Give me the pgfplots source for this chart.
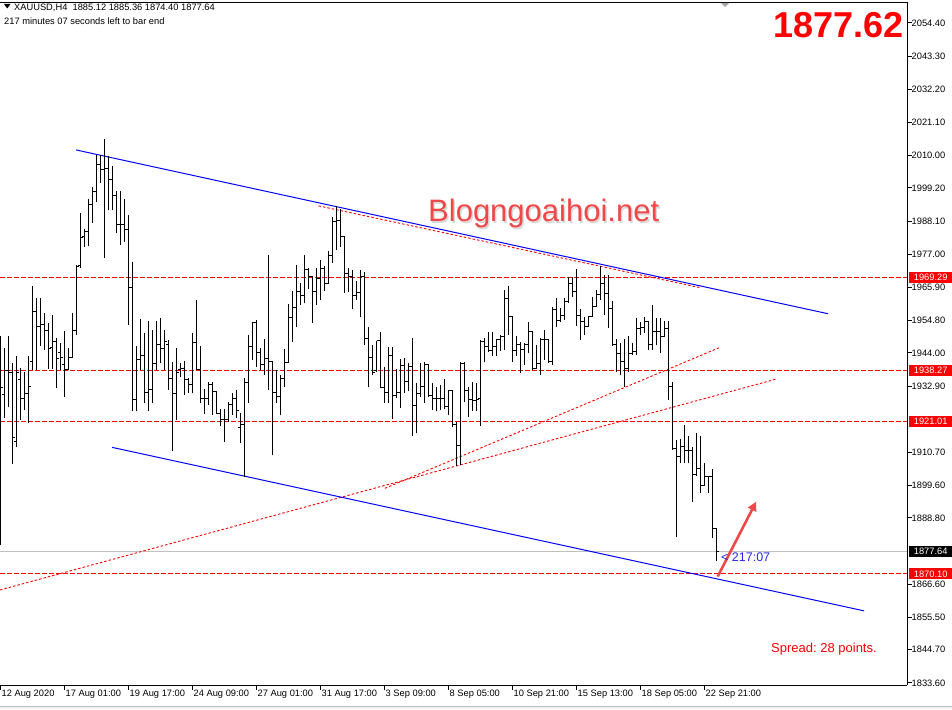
\documentclass[border=0pt]{standalone}
\usepackage{fontspec}
\setmainfont{Liberation Sans}
\usepackage{pgfplots}
\usepackage{pgfplotstable}
\pgfplotsset{compat=1.18}
\usetikzlibrary{arrows.meta}

\definecolor{mtred}{RGB}{255,0,0}
\definecolor{mtblue}{RGB}{0,0,255}
\definecolor{wmred}{RGB}{240,72,72}
\definecolor{arrowred}{RGB}{238,72,72}
\definecolor{bidgray}{RGB}{192,192,192}
\definecolor{cntblue}{RGB}{40,40,235}
\newcommand\mt{\fontsize{9.3}{11}\selectfont}

% open tick to the left, close tick to the right
\pgfdeclareplotmark{ohlcopen}{\pgfpathmoveto{\pgfqpoint{-2.6pt}{0pt}}\pgfpathlineto{\pgfqpoint{0pt}{0pt}}\pgfusepathqstroke}
\pgfdeclareplotmark{ohlcclose}{\pgfpathmoveto{\pgfqpoint{0pt}{0pt}}\pgfpathlineto{\pgfqpoint{2.6pt}{0pt}}\pgfusepathqstroke}

% XAUUSD H4 bars: index, open, high, low, close
\pgfplotstableread{
i o h l c
0 1941.7 1949.5 1879.8 1932.3
1 1930.0 1945.7 1922.3 1938.0
2 1938.0 1949.5 1925.9 1937.3
3 1937.3 1940.6 1906.8 1915.6
4 1914.3 1942.8 1912.6 1937.6
5 1935.0 1938.9 1921.6 1928.6
6 1928.6 1937.7 1924.9 1930.3
7 1930.3 1942.8 1920.6 1932.6
8 1941.0 1966.5 1938.3 1957.7
9 1957.7 1962.3 1938.3 1953.0
10 1953.0 1962.3 1946.3 1953.4
11 1953.4 1957.3 1945.0 1951.4
12 1951.4 1954.1 1938.5 1945.6
13 1945.7 1956.7 1938.5 1947.8
14 1947.7 1948.9 1932.2 1942.2
15 1944.3 1947.4 1938.3 1942.3
16 1940.0 1951.4 1929.4 1938.5
17 1938.6 1945.6 1938.5 1942.4
18 1942.4 1957.3 1942.4 1951.4
19 1951.4 1973.4 1950.0 1972.9
20 1973.1 1990.7 1972.3 1982.7
21 1982.8 1985.4 1979.4 1984.6
22 1984.5 1995.4 1979.6 1993.5
23 1993.5 1999.6 1987.4 1998.0
24 1998.0 2010.3 1994.6 2007.1
25 2007.1 2010.3 2001.0 2005.2
26 2005.2 2015.5 1975.9 2005.8
27 2005.8 2009.9 1991.8 2002.1
28 2002.1 2006.6 1991.8 1996.5
29 1996.5 1998.0 1984.0 1987.1
30 1987.1 1998.0 1980.1 1986.8
31 1986.8 1995.4 1981.2 1985.2
32 1985.2 1990.2 1953.4 1966.0
33 1966.0 1974.5 1924.4 1928.3
34 1928.3 1946.3 1924.4 1941.7
35 1941.7 1955.3 1938.3 1943.3
36 1943.3 1950.8 1927.2 1930.9
37 1930.9 1954.7 1924.4 1931.9
38 1931.9 1951.7 1927.2 1940.6
39 1940.6 1954.7 1938.3 1946.7
40 1946.7 1955.8 1940.6 1945.6
41 1945.6 1951.7 1938.3 1947.8
42 1946.7 1948.4 1931.6 1935.5
43 1935.6 1941.1 1911.3 1930.5
44 1930.5 1945.6 1921.6 1937.6
45 1938.3 1940.6 1936.1 1938.9
46 1938.9 1941.3 1929.9 1935.0
47 1935.0 1935.6 1930.6 1933.3
48 1933.3 1950.8 1930.5 1947.6
49 1947.6 1961.7 1938.3 1938.3
50 1938.3 1946.3 1927.3 1928.9
51 1928.9 1931.8 1923.6 1928.9
52 1928.9 1934.4 1926.6 1933.3
53 1933.3 1934.4 1923.2 1931.0
54 1931.0 1931.0 1923.5 1923.6
55 1923.6 1925.2 1919.6 1921.6
56 1921.6 1925.2 1914.2 1921.6
57 1921.6 1927.7 1921.0 1926.6
58 1926.6 1930.5 1923.2 1928.9
59 1928.9 1931.6 1922.3 1924.9
60 1918.9 1923.8 1913.9 1919.9
61 1919.9 1935.5 1902.6 1934.0
62 1934.0 1950.0 1927.3 1946.3
63 1946.3 1954.5 1941.7 1954.1
64 1954.1 1955.0 1939.4 1944.1
65 1944.1 1945.6 1938.3 1940.0
66 1940.0 1948.6 1936.6 1942.2
67 1942.2 1976.8 1931.6 1941.1
68 1941.1 1941.1 1909.7 1930.9
69 1930.9 1938.3 1927.3 1929.4
70 1929.4 1936.6 1923.2 1935.5
71 1935.5 1945.2 1932.7 1940.9
72 1940.9 1960.4 1940.9 1955.9
73 1955.9 1964.8 1947.8 1959.3
74 1959.3 1973.4 1952.8 1964.5
75 1964.5 1967.3 1960.1 1963.2
76 1963.2 1976.8 1960.6 1971.8
77 1971.8 1972.3 1965.3 1969.5
78 1969.5 1969.5 1954.1 1964.5
79 1964.5 1972.3 1960.1 1969.0
80 1969.0 1975.1 1961.7 1972.3
81 1972.3 1973.1 1964.7 1967.3
82 1967.3 1978.2 1967.3 1976.5
83 1976.5 1989.4 1974.0 1987.9
84 1987.9 1993.2 1978.5 1988.3
85 1988.3 1992.1 1979.4 1982.9
86 1982.9 1983.1 1964.2 1970.7
87 1970.7 1972.3 1964.5 1969.5
88 1969.5 1971.8 1958.6 1963.1
89 1963.1 1967.9 1961.7 1964.3
90 1964.3 1971.8 1955.9 1969.5
91 1969.5 1971.2 1946.7 1948.9
92 1948.9 1952.8 1932.5 1942.4
93 1942.4 1946.7 1936.6 1937.5
94 1938.0 1948.0 1937.7 1948.0
95 1948.0 1950.9 1932.2 1932.5
96 1932.5 1939.4 1927.2 1930.9
97 1930.9 1946.1 1927.2 1943.3
98 1943.3 1946.1 1921.8 1929.9
99 1929.9 1938.5 1928.8 1930.9
100 1930.9 1941.9 1925.5 1939.8
101 1939.8 1942.2 1930.7 1934.6
102 1934.6 1940.6 1931.3 1939.4
103 1939.4 1948.9 1916.2 1926.3
104 1926.3 1933.8 1917.1 1930.5
105 1930.5 1940.6 1929.4 1932.7
106 1932.7 1941.1 1927.4 1940.0
107 1940.0 1940.0 1929.4 1929.6
108 1929.6 1934.1 1924.9 1928.8
109 1928.8 1932.7 1924.4 1928.6
110 1928.6 1933.3 1924.9 1928.8
111 1928.8 1935.2 1925.2 1926.0
112 1926.0 1931.6 1923.2 1931.4
113 1931.4 1931.6 1919.3 1919.9
114 1919.9 1921.0 1906.3 1913.0
115 1913.0 1940.8 1906.5 1940.6
116 1940.6 1940.8 1927.7 1931.4
117 1931.4 1932.7 1922.7 1928.3
118 1928.3 1934.4 1924.4 1928.0
119 1928.0 1933.9 1924.4 1928.3
120 1928.8 1948.4 1919.6 1947.8
121 1947.8 1948.9 1940.8 1946.1
122 1946.1 1950.9 1944.4 1944.8
123 1944.8 1951.1 1942.8 1946.1
124 1946.1 1948.6 1942.8 1948.4
125 1948.4 1950.0 1944.8 1949.5
126 1949.5 1965.1 1945.0 1962.3
127 1962.3 1966.4 1950.0 1956.1
128 1956.1 1956.4 1941.1 1944.8
129 1944.8 1949.5 1942.8 1946.7
130 1946.7 1947.8 1937.2 1945.0
131 1945.0 1947.2 1940.0 1946.7
132 1946.7 1954.5 1943.9 1951.1
133 1951.1 1951.1 1938.3 1938.9
134 1938.9 1946.7 1938.9 1940.3
135 1940.3 1948.9 1936.6 1948.4
136 1948.4 1951.5 1941.7 1948.4
137 1948.4 1948.4 1940.6 1941.1
138 1941.1 1959.2 1940.0 1958.6
139 1958.6 1962.3 1952.8 1955.0
140 1955.0 1958.9 1954.5 1956.4
141 1956.4 1962.3 1955.0 1961.2
142 1961.2 1969.5 1960.8 1967.3
143 1967.3 1969.5 1962.8 1964.5
144 1964.5 1972.0 1953.1 1956.4
145 1956.4 1958.6 1948.4 1954.5
146 1954.5 1956.1 1950.0 1952.8
147 1952.8 1956.4 1952.8 1956.1
148 1956.1 1962.8 1956.1 1959.5
149 1959.5 1965.1 1959.5 1963.4
150 1963.4 1973.1 1961.7 1967.3
151 1967.3 1970.1 1956.7 1964.0
152 1964.0 1970.1 1952.3 1958.9
153 1958.9 1961.2 1946.4 1946.7
154 1946.7 1948.6 1937.7 1943.9
155 1943.9 1947.4 1936.6 1941.1
156 1941.1 1948.6 1932.7 1938.9
157 1938.9 1949.7 1937.7 1943.9
158 1943.9 1947.4 1943.3 1944.4
159 1944.4 1955.6 1943.3 1952.3
160 1952.3 1954.5 1950.0 1952.6
161 1952.6 1956.1 1950.6 1954.5
162 1954.5 1954.5 1945.0 1946.7
163 1946.7 1960.1 1945.0 1951.1
164 1951.1 1955.6 1946.7 1951.1
165 1951.1 1955.6 1943.9 1949.5
166 1949.5 1954.8 1949.5 1952.3
167 1952.3 1954.8 1928.3 1932.7
168 1932.7 1934.4 1911.5 1912.1
169 1912.1 1914.9 1882.5 1909.5
170 1909.5 1915.1 1907.1 1912.6
171 1912.6 1919.9 1907.1 1911.5
172 1911.5 1916.2 1907.1 1911.2
173 1911.2 1912.6 1894.2 1903.2
174 1903.2 1917.3 1902.8 1905.4
175 1905.4 1916.2 1897.1 1899.8
176 1899.8 1907.1 1899.8 1902.8
177 1902.8 1902.8 1897.3 1902.6
178 1902.6 1905.1 1882.0 1885.4
179 1885.12 1885.36 1874.40 1877.64
}\xau

\begin{document}
\frenchspacing
\begin{tikzpicture}
\path[use as bounding box] (0pt,0pt) rectangle (952pt,709pt);
\fill[black!6] (0pt,0pt) rectangle (952pt,2.5pt);
\draw[black!25, line width=0.8pt] (0pt,2.5pt) -- (952pt,2.5pt);

\begin{axis}[
  at={(0pt,24pt)}, anchor=south west,
  scale only axis, width=907pt, height=683pt,
  xmin=-0.125, xmax=226.625,
  ymin=1832.9, ymax=2061.4,
  axis x line*=bottom, axis y line*=right,
  axis line style={black, line width=0.9pt, -},
  tick align=outside,
  major tick length=4.5pt,
  tick style={black, line width=0.9pt},
  xtick={0,16,...,176},
  xticklabels={12 Aug 2020, 17 Aug 01:00, 19 Aug 17:00, 24 Aug 09:00,
    27 Aug 01:00, 31 Aug 17:00, 3 Sep 09:00, 8 Sep 05:00, 10 Sep 21:00,
    15 Sep 13:00, 18 Sep 05:00, 22 Sep 21:00},
  xticklabel style={anchor=north west, inner sep=0pt, font=\mt, xshift=1pt},
  ytick={2054.4,2043.3,2032.2,2021.1,2010.0,1999.2,1988.1,1977.0,1965.9,
    1954.8,1944.0,1932.9,1910.7,1899.6,1888.8,1866.6,1855.5,1844.7,1833.6},
  yticklabels={2054.40,2043.30,2032.20,2021.10,2010.00,1999.20,1988.10,
    1977.00,1965.90,1954.80,1944.00,1932.90,1910.70,1899.60,1888.80,
    1866.60,1855.50,1844.70,1833.60},
  yticklabel style={anchor=west, inner sep=0pt, font=\mt},
  clip=false,
]
% bid line
\addplot[bidgray, line width=1pt] coordinates {(-0.125,1877.64) (226.625,1877.64)};
% horizontal levels
\addplot[mtred, line width=1pt, dash pattern=on 4.5pt off 2.5pt] coordinates {(-0.125,1969.29) (226.625,1969.29)};
\addplot[mtred, line width=1pt, dash pattern=on 4.5pt off 2.5pt] coordinates {(-0.125,1938.27) (226.625,1938.27)};
\addplot[mtred, line width=1pt, dash pattern=on 4.5pt off 2.5pt] coordinates {(-0.125,1921.01) (226.625,1921.01)};
\addplot[mtred, line width=1pt, dash pattern=on 4.5pt off 2.5pt] coordinates {(-0.125,1870.10) (226.625,1870.10)};
% rising dotted trendlines
\addplot[mtred, line width=0.9pt, dash pattern=on 2.5pt off 2pt] coordinates {(-0.125,1864.7) (194.1,1935.3)};
\addplot[mtred, line width=0.9pt, dash pattern=on 2.5pt off 2pt] coordinates {(96.1,1898.7) (179.6,1945.7)};
\addplot[mtred, line width=0.9pt, dash pattern=on 2.5pt off 2pt] coordinates {(79.5,1993.2) (175,1965.8)};
% channel
\addplot[mtblue, line width=1pt] coordinates {(18.9,2011.9) (206.9,1957.1)};
\addplot[mtblue, line width=1pt] coordinates {(27.9,1912.4) (215.9,1857.7)};

% OHLC bars
\addplot[draw=none, mark=none, forget plot,
  error bars/.cd, y dir=plus, y explicit, error mark=none,
  error bar style={draw=black, line width=1pt}]
  table[x=i, y=l, y error plus expr=\thisrow{h}-\thisrow{l}] {\xau};
\addplot[only marks, mark=ohlcopen, mark options={draw=black, line width=1pt}]
  table[x=i, y=o] {\xau};
\addplot[only marks, mark=ohlcclose, mark options={draw=black, line width=1pt}]
  table[x=i, y=c] {\xau};

% arrow
\addplot[arrowred, line width=2.6pt, -{Triangle[length=9pt, width=9pt]}]
  coordinates {(179.3,1869.2) (188.9,1894.2)};

% price labels on the scale
\node[fill=mtred, text=white, font=\mt, inner sep=0pt, minimum width=43pt, minimum height=11pt, anchor=west, xshift=2pt] at (axis cs:226.625,1969.29) {1969.29};
\node[fill=mtred, text=white, font=\mt, inner sep=0pt, minimum width=43pt, minimum height=11pt, anchor=west, xshift=2pt] at (axis cs:226.625,1938.27) {1938.27};
\node[fill=mtred, text=white, font=\mt, inner sep=0pt, minimum width=43pt, minimum height=11pt, anchor=west, xshift=2pt] at (axis cs:226.625,1921.01) {1921.01};
\node[fill=black, text=white, font=\mt, inner sep=0pt, minimum width=43pt, minimum height=11pt, anchor=west, xshift=2pt] at (axis cs:226.625,1877.64) {1877.64};
\node[fill=mtred, text=white, font=\mt, inner sep=0pt, minimum width=43pt, minimum height=11pt, anchor=west, xshift=2pt] at (axis cs:226.625,1870.10) {1870.10};
\end{axis}

% frame top
\draw[black, line width=0.9pt] (0pt,707pt) -- (907pt,707pt);
\fill[black!35] (721pt,706pt) -- (729pt,706pt) -- (725pt,702pt) -- cycle;

% header
\fill[black] (4pt,705pt) -- (10.5pt,705pt) -- (7.25pt,700.5pt) -- cycle;
\node[anchor=base west, inner sep=0pt, font=\mt] at (14pt,698pt) {XAUUSD,H4\ \ 1885.12 1885.36 1874.40 1877.64};
\node[anchor=base west, inner sep=0pt, font=\mt] at (4pt,684pt) {217 minutes 07 seconds left to bar end};

% big price
\node[anchor=base east, inner sep=0pt, text=mtred, font=\fontsize{36}{40}\selectfont\bfseries] at (904pt,671.5pt) {1877.62};

% watermark
\node[anchor=base west, inner sep=0pt, text=black!15, font=\fontsize{31}{36}\selectfont] at (429.5pt,485.5pt) {Blogngoaihoi.net};
\node[anchor=base west, inner sep=0pt, text=wmred, font=\fontsize{31}{36}\selectfont] at (428pt,487pt) {Blogngoaihoi.net};

% countdown and spread
\node[anchor=base west, inner sep=0pt, text=cntblue, font=\fontsize{12.5}{14}\selectfont] at (721pt,147.5pt) {<\ 217:07};
\node[anchor=base west, inner sep=0pt, text=mtred, font=\fontsize{13}{15}\selectfont] at (771pt,56.5pt) {Spread: 28 points.};
\end{tikzpicture}
\end{document}
